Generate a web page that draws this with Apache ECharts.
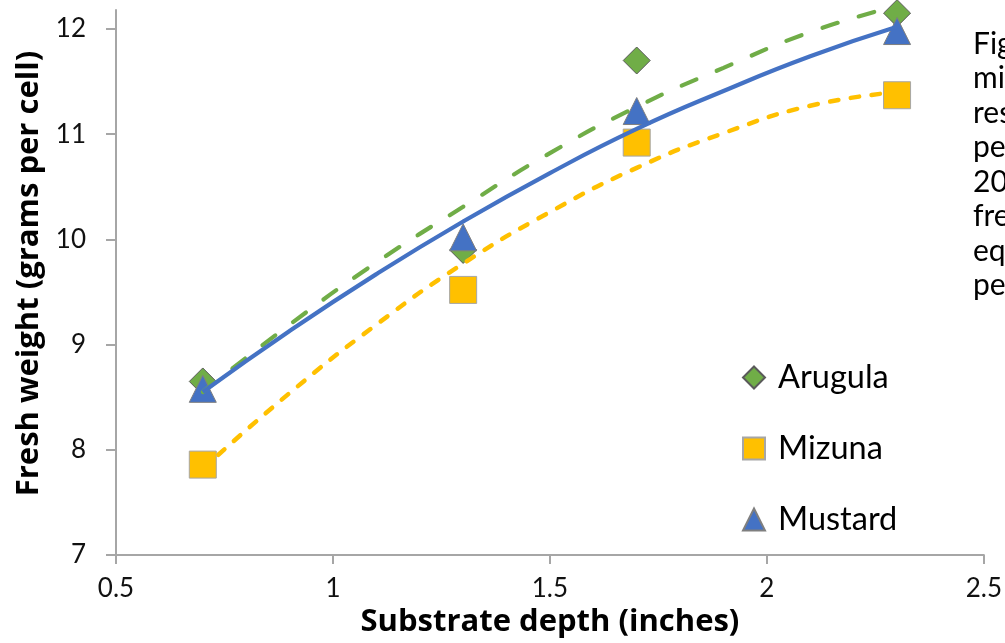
<!DOCTYPE html>
<html>
<head>
<meta charset="utf-8">
<script src="https://cdn.jsdelivr.net/npm/echarts@6/dist/echarts.min.js"></script>
<style>
  html, body { margin: 0; padding: 0; background: #fff; }
  #chart { width: 1005px; height: 643px; }
</style>
</head>
<body>
<div id="chart"></div>
<script>
// ---- data ----
const depth = [0.7, 1.3, 1.7, 2.3];
const arugula = [8.65, 9.90, 11.70, 12.15];
const mizuna = [7.86, 9.52, 10.92, 11.37];
const mustard = [8.58, 10.02, 11.22, 11.98];

// trendline values
const trendX = [0.7, 0.9, 1.1, 1.3, 1.5, 1.7, 1.9, 2.1, 2.3];
const arugulaTrend = [8.55, 9.19, 9.78, 10.31, 10.82, 11.26, 11.63, 11.97, 12.22];
const mizunaTrend = [7.82, 8.54, 9.19, 9.77, 10.26, 10.68, 11.01, 11.27, 11.40];
const mustardTrend = [8.55, 9.13, 9.67, 10.17, 10.63, 11.05, 11.41, 11.74, 12.02];

const xTicks = [0.5, 1, 1.5, 2, 2.5];
const yTicks = [7, 8, 9, 10, 11, 12];

const captionLines = ['Fig', 'mi', 'res', 'pe', '20', 'fre', 'eq', 'pe'];

const FONT = 'Lato, "Open Sans", sans-serif';
const TITLE_FONT = '"Open Sans", Lato, sans-serif';
const zip = (xs, ys) => xs.map((x, i) => [x, ys[i]]);

const chart = echarts.init(document.getElementById('chart'), null, { renderer: 'canvas' });

chart.setOption({
  backgroundColor: '#ffffff',
  animation: false,
  grid: { left: 116, right: 20, top: 10, bottom: 85 },
  xAxis: {
    type: 'value', min: 0.5, max: 2.5, interval: 0.5,
    name: 'Substrate depth (inches)', nameLocation: 'middle', nameGap: 44,
    nameTextStyle: { fontFamily: TITLE_FONT, fontWeight: 'bold', fontSize: 31, color: '#000' },
    axisLine: { show: true, lineStyle: { color: '#a6a6a6', width: 2 } },
    axisTick: { show: true, inside: false, length: 9, lineStyle: { color: '#a6a6a6', width: 2 }, customValues: xTicks },
    axisLabel: { fontFamily: FONT, fontSize: 26, color: '#111', margin: 21, customValues: xTicks, formatter: v => String(v) },
    splitLine: { show: false }
  },
  yAxis: {
    type: 'value', min: 7, max: 12.18,
    name: 'Fresh weight (grams per cell)', nameLocation: 'middle', nameGap: 70,
    nameTextStyle: { fontFamily: TITLE_FONT, fontWeight: 'bold', fontSize: 31, color: '#000', padding: [0, 0, 0, 18] },
    axisLine: { show: true, lineStyle: { color: '#a6a6a6', width: 2 } },
    axisTick: { show: true, inside: false, length: 10, lineStyle: { color: '#a6a6a6', width: 2 }, customValues: yTicks },
    axisLabel: { fontFamily: FONT, fontSize: 26, color: '#111', margin: 30, customValues: yTicks },
    splitLine: { show: false }
  },
  legend: {
    orient: 'vertical', left: 737, top: 356,
    data: ['Arugula', 'Mizuna', 'Mustard'],
    itemWidth: 22, itemHeight: 22, itemGap: 38,
    textStyle: { fontFamily: FONT, fontSize: 32.5, color: '#000', padding: [0, 0, 0, 8] }
  },
  graphic: [{
    type: 'text', left: 973, top: 27,
    style: { text: captionLines.join('\n'), font: '30px ' + FONT, fill: '#000', lineHeight: 34.5 }
  }],
  series: [
    {
      name: 'Arugula', type: 'scatter', clip: false, z: 2,
      symbol: 'diamond', symbolSize: 27,
      itemStyle: { color: '#70ad47', borderColor: '#5a5a5a', borderWidth: 1, opacity: 1 },
      data: zip(depth, arugula)
    },
    {
      name: 'Mizuna', type: 'scatter', clip: false, z: 3,
      symbol: 'rect', symbolSize: 27,
      itemStyle: { color: '#ffc000', borderColor: '#a6a6a6', borderWidth: 1, opacity: 1 },
      data: zip(depth, mizuna)
    },
    {
      name: 'Mustard', type: 'scatter', clip: false, z: 4,
      symbol: 'triangle', symbolSize: 27,
      itemStyle: { color: '#4472c4', borderColor: '#7f7f7f', borderWidth: 1, opacity: 1 },
      data: zip(depth, mustard)
    },
    {
      name: 'Arugula trend', type: 'line', smooth: true, showSymbol: false, z: 6, clip: false,
      lineStyle: { color: '#70ad47', width: 4.2, type: [16, 22], cap: 'round' },
      data: zip(trendX, arugulaTrend)
    },
    {
      name: 'Mizuna trend', type: 'line', smooth: true, showSymbol: false, z: 6, clip: false,
      lineStyle: { color: '#ffc000', width: 4.5, type: [8.5, 12.5], cap: 'round' },
      data: zip(trendX, mizunaTrend)
    },
    {
      name: 'Mustard trend', type: 'line', smooth: true, showSymbol: false, z: 7, clip: false,
      lineStyle: { color: '#4472c4', width: 4.2 },
      data: zip(trendX, mustardTrend)
    }
  ]
});
</script>
</body>
</html>
